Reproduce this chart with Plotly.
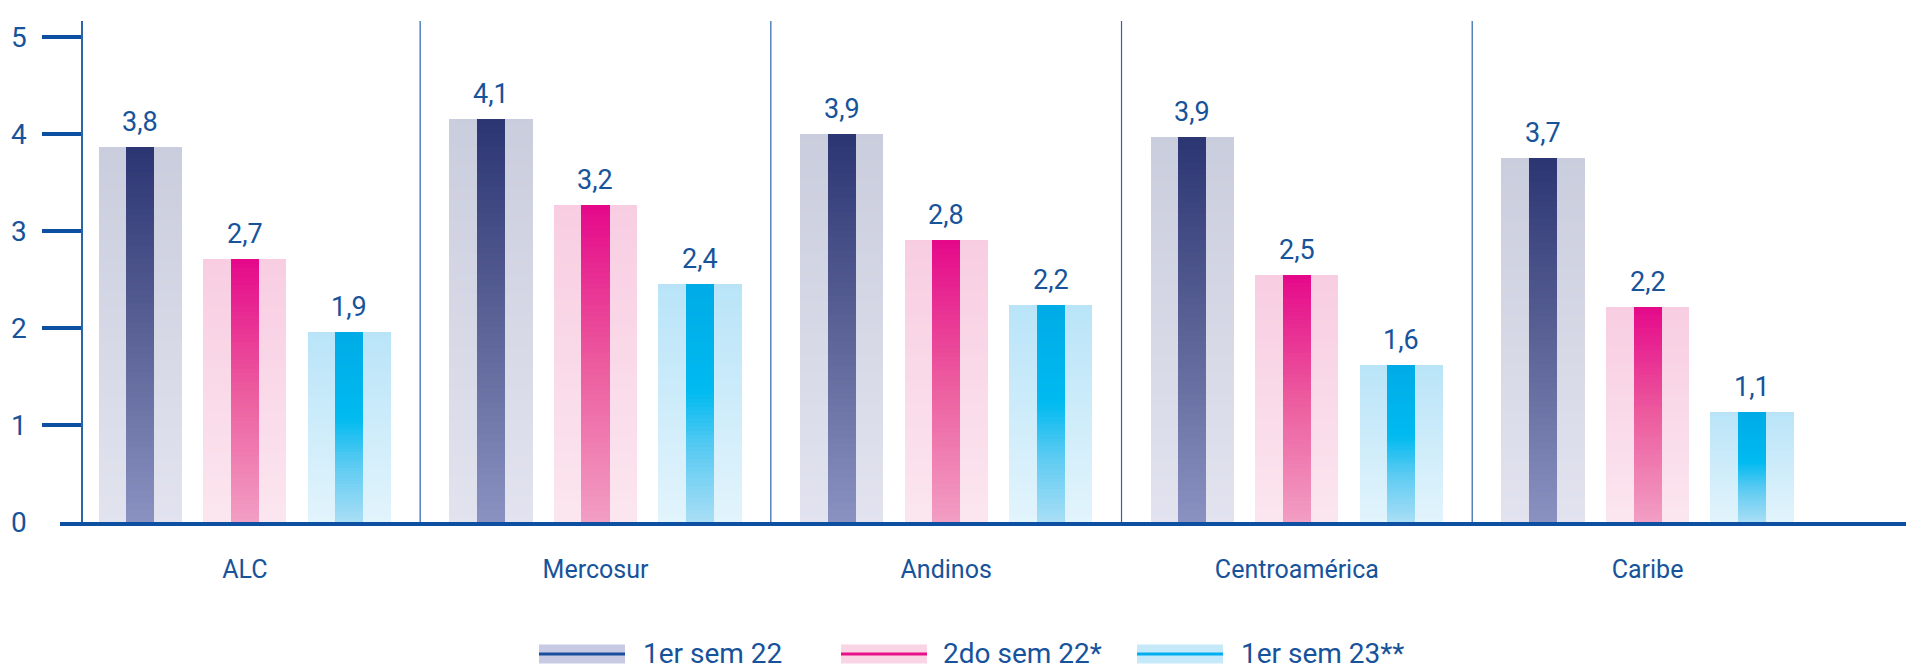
import plotly.graph_objects as go

# ---- data ----
categories = ["ALC", "Mercosur", "Andinos", "Centroamérica", "Caribe"]
series_names = ["1er sem 22", "2do sem 22*", "1er sem 23**"]
sem1_22 = [3.87, 4.15, 4.00, 3.97, 3.75]
sem2_22 = [2.71, 3.27, 2.91, 2.55, 2.22]
sem1_23 = [1.96, 2.45, 2.24, 1.62, 1.13]
labels_sem1_22 = ["3,8", "4,1", "3,9", "3,9", "3,7"]
labels_sem2_22 = ["2,7", "3,2", "2,8", "2,5", "2,2"]
labels_sem1_23 = ["1,9", "2,4", "2,2", "1,6", "1,1"]
y_ticks = [0, 1, 2, 3, 4, 5]

series_values = [sem1_22, sem2_22, sem1_23]
series_labels = [labels_sem1_22, labels_sem2_22, labels_sem1_23]

# ---- styles ----
W, H = 1914, 671
ML, MR, MT = 60, 8, 21
MB = H - 522
TXT = "#17539b"
AXIS = "#0d4fa0"
FONT = "Roboto"

# gradient stops: (position from bottom 0..1, colour)
outer_grad = [
    [(0, "#e2e3ef"), (1, "#cacddd")],
    [(0, "#fbe6ef"), (1, "#f8cde2")],
    [(0, "#e2f4fc"), (1, "#b9e4f8")],
]
inner_grad = [
    [(0, "#8a92c2"), (0.5, "#5a6296"), (1, "#2b3572")],
    [(0, "#f29ec4"), (0.5, "#ec5b9e"), (1, "#e5088a")],
    [(0, "#a9def5"), (0.3, "#5ccbf2"), (0.55, "#00baf0"), (1, "#00abe6")],
]
legend_box = ["#c8cae4", "#f9d4e5", "#c6e9f9"]
legend_line = ["#1a4f9c", "#e6118a", "#00aeef"]

offsets = [-0.298, 0.0, 0.298]
outer_w = 0.237
inner_w = 0.08
N = 60


def hex2rgb(h):
    h = h.lstrip("#")
    return tuple(int(h[i:i + 2], 16) for i in (0, 2, 4))


def grad_color(stops, t):
    for (p0, c0), (p1, c1) in zip(stops[:-1], stops[1:]):
        if t <= p1:
            f = 0 if p1 == p0 else (t - p0) / (p1 - p0)
            a, b = hex2rgb(c0), hex2rgb(c1)
            r = [round(a[i] + (b[i] - a[i]) * f) for i in range(3)]
            return "rgb(%d,%d,%d)" % tuple(r)
    return stops[-1][1]


def gradient_bar(values, off, width, stops):
    xs, bases, ys, cols = [], [], [], []
    for k in range(N):
        t = (k + 0.5) / N
        col = grad_color(stops, t)
        for i, v in enumerate(values):
            b = v * k / N
            xs.append(i + off)
            bases.append(b)
            ys.append(v - b)
            cols.append(col)
    return go.Bar(x=xs, y=ys, base=bases, width=width,
                  marker=dict(color=cols, line=dict(width=0)),
                  hoverinfo="skip", showlegend=False)


fig = go.Figure()
for s in range(3):
    fig.add_trace(gradient_bar(series_values[s], offsets[s], outer_w, outer_grad[s]))
    fig.add_trace(gradient_bar(series_values[s], offsets[s], inner_w, inner_grad[s]))

# value labels
for s in range(3):
    for i, v in enumerate(series_values[s]):
        fig.add_annotation(x=i + offsets[s], y=v, text=series_labels[s][i],
                           showarrow=False, yanchor="bottom", yshift=7,
                           font=dict(family=FONT, size=27, color=TXT))

# x range in category units
x_left, x_right = -0.527, 4.737
plot_w = W - ML - MR
plot_h = H - MT - MB


def px_to_xpaper(px):
    return (px - ML) / plot_w


def px_to_ypaper(py):
    return (H - MB - py) / plot_h


# group separators
for i in range(len(categories) - 1):
    fig.add_shape(type="line", x0=i + 0.5, x1=i + 0.5, xref="x",
                  y0=0, y1=1, yref="paper",
                  line=dict(color="#2b65a8", width=1.2), layer="below")

# "0" label (no tick at 0)
fig.add_annotation(x=px_to_xpaper(82), xref="paper", y=0, yref="y",
                   text="0", showarrow=False, xanchor="right", xshift=-53,
                   font=dict(family=FONT, size=28, color=TXT))

# legend
box_x = [539, 841, 1137]
box_w = 86
text_x = [642, 942, 1240]
ly = 654
for s in range(3):
    fig.add_shape(type="rect", xref="paper", yref="paper",
                  x0=px_to_xpaper(box_x[s]), x1=px_to_xpaper(box_x[s] + box_w),
                  y0=px_to_ypaper(ly + 9.5), y1=px_to_ypaper(ly - 9.5),
                  fillcolor=legend_box[s], line=dict(width=0))
    fig.add_shape(type="line", xref="paper", yref="paper",
                  x0=px_to_xpaper(box_x[s]), x1=px_to_xpaper(box_x[s] + box_w),
                  y0=px_to_ypaper(ly), y1=px_to_ypaper(ly),
                  line=dict(color=legend_line[s], width=3))
    fig.add_annotation(xref="paper", yref="paper", x=px_to_xpaper(text_x[s]),
                       y=px_to_ypaper(ly - 1), xanchor="left", yanchor="middle",
                       text=series_names[s], showarrow=False, borderpad=0,
                       font=dict(family=FONT, size=28, color=TXT))

fig.update_layout(
    width=W, height=H,
    margin=dict(l=ML, r=MR, t=MT, b=MB),
    paper_bgcolor="white", plot_bgcolor="white",
    barmode="overlay", bargap=0,
    showlegend=False,
    xaxis=dict(range=[x_left, x_right], tickvals=list(range(len(categories))),
               ticktext=categories, showgrid=False, zeroline=False,
               showline=True, linecolor=AXIS, linewidth=4, ticks="",
               ticklabelstandoff=22,
               tickfont=dict(family=FONT, size=25, color=TXT)),
    yaxis=dict(range=[0, 5.165], tickvals=y_ticks[1:],
               ticktext=[str(t) for t in y_ticks[1:]],
               anchor="free", position=px_to_xpaper(82),
               showgrid=False, zeroline=False, showline=True,
               linecolor="#2b65a8", linewidth=1.5,
               ticks="outside", ticklen=39, tickwidth=3.5, tickcolor=AXIS,
               ticklabelstandoff=10,
               tickfont=dict(family=FONT, size=28, color=TXT)),
)

fig.write_html("out.html",
               config={"displayModeBar": False},
               post_script="document.body.style.margin='0';"
                           "document.body.style.overflow='hidden';")
